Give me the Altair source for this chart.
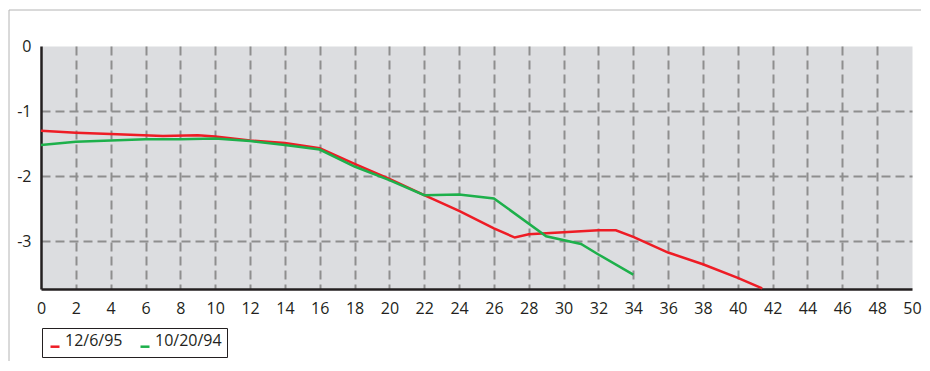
import altair as alt
import pandas as pd

# Series
red_x = [0, 2, 4, 7, 9, 10, 12, 14, 16, 18, 20, 22, 24, 26, 27.2, 28, 30, 32, 33, 34, 36, 38, 40, 41.4]
red_y = [-1.30, -1.33, -1.35, -1.38, -1.37, -1.39, -1.45, -1.49, -1.57, -1.81, -2.04, -2.29, -2.53,
         -2.80, -2.94, -2.89, -2.86, -2.83, -2.83, -2.93, -3.17, -3.35, -3.56, -3.72]
green_x = [0, 2, 4, 6, 8, 10, 12, 14, 16, 18, 20, 22, 24, 26, 29, 31, 32, 34]
green_y = [-1.52, -1.47, -1.45, -1.43, -1.43, -1.42, -1.46, -1.52, -1.59, -1.85, -2.06, -2.29,
           -2.28, -2.34, -2.92, -3.04, -3.20, -3.51]

series_names = ["12/6/95", "10/20/94"]
series_colors = ["#ee1c25", "#1db04b"]
x_ticks = list(range(0, 51, 2))
y_ticks = [0, -1, -2, -3]

df = pd.concat([
    pd.DataFrame({"x": red_x, "y": red_y, "series": series_names[0]}),
    pd.DataFrame({"x": green_x, "y": green_y, "series": series_names[1]}),
], ignore_index=True)

FONT = "Open Sans"
TXT = "#231f20"
GRID = "#8e8e8e"
FS = 16

x_axis = alt.Axis(
    values=x_ticks, title=None, labelPadding=11, labelExpr="'' + datum.value",
    labelFont=FONT, labelFontSize=FS, labelColor=TXT, labelFlush=False, labelOverlap=False,
    gridColor={"condition": {"test": "datum.value === 0 || datum.value === 50", "value": "transparent"},
               "value": GRID},
)
y_axis = alt.Axis(
    values=y_ticks, title=None, labelPadding=10, labelExpr="'' + datum.value",
    labelFont=FONT, labelFontSize=FS, labelColor=TXT, labelFlush=False, labelOverlap=False,
    gridColor={"condition": {"test": "datum.value === 0", "value": "transparent"}, "value": GRID},
)

lines = alt.Chart(df).mark_line(strokeWidth=2.5).encode(
    x=alt.X("x:Q", scale=alt.Scale(domain=[0, 50], nice=False, zero=False), axis=x_axis),
    y=alt.Y("y:Q", scale=alt.Scale(domain=[-3.73, 0], nice=False, zero=False), axis=y_axis),
    color=alt.Color("series:N",
                    scale=alt.Scale(domain=series_names, range=series_colors),
                    legend=alt.Legend(title=None, orient="none", legendX=1, legendY=282,
                                      direction="horizontal", strokeColor=TXT, fillColor="white",
                                      padding=5, labelFontSize=FS, labelFont=FONT, labelColor=TXT,
                                      symbolType="M-1,1.2L1,1.2", symbolSize=81,
                                      symbolStrokeWidth=2.5, labelOffset=2, columnPadding=12)),
    detail="series:N",
)

one = pd.DataFrame({"a": [0]})
frame_left = alt.Chart(one).mark_rule(color="#b4b4b4", strokeWidth=1).encode(
    x=alt.value(-32), y=alt.value(-36), y2=alt.value(315))
frame_top = alt.Chart(one).mark_rule(color="#b4b4b4", strokeWidth=1).encode(
    x=alt.value(-32), x2=alt.value(880), y=alt.value(-36))

chart = alt.layer(frame_left, frame_top, lines).properties(
    width=871, height=243,
    padding={"left": 0, "top": 1, "right": 0, "bottom": 0},
).configure_view(
    fill="#dcdde0", stroke="transparent"
).configure_axis(
    domainColor=TXT, domainWidth=2.5, ticks=False, tickSize=0,
    gridDash=[9, 5], gridWidth=2,
)

chart.save("out.html", embed_options={"renderer": "svg", "actions": False})
